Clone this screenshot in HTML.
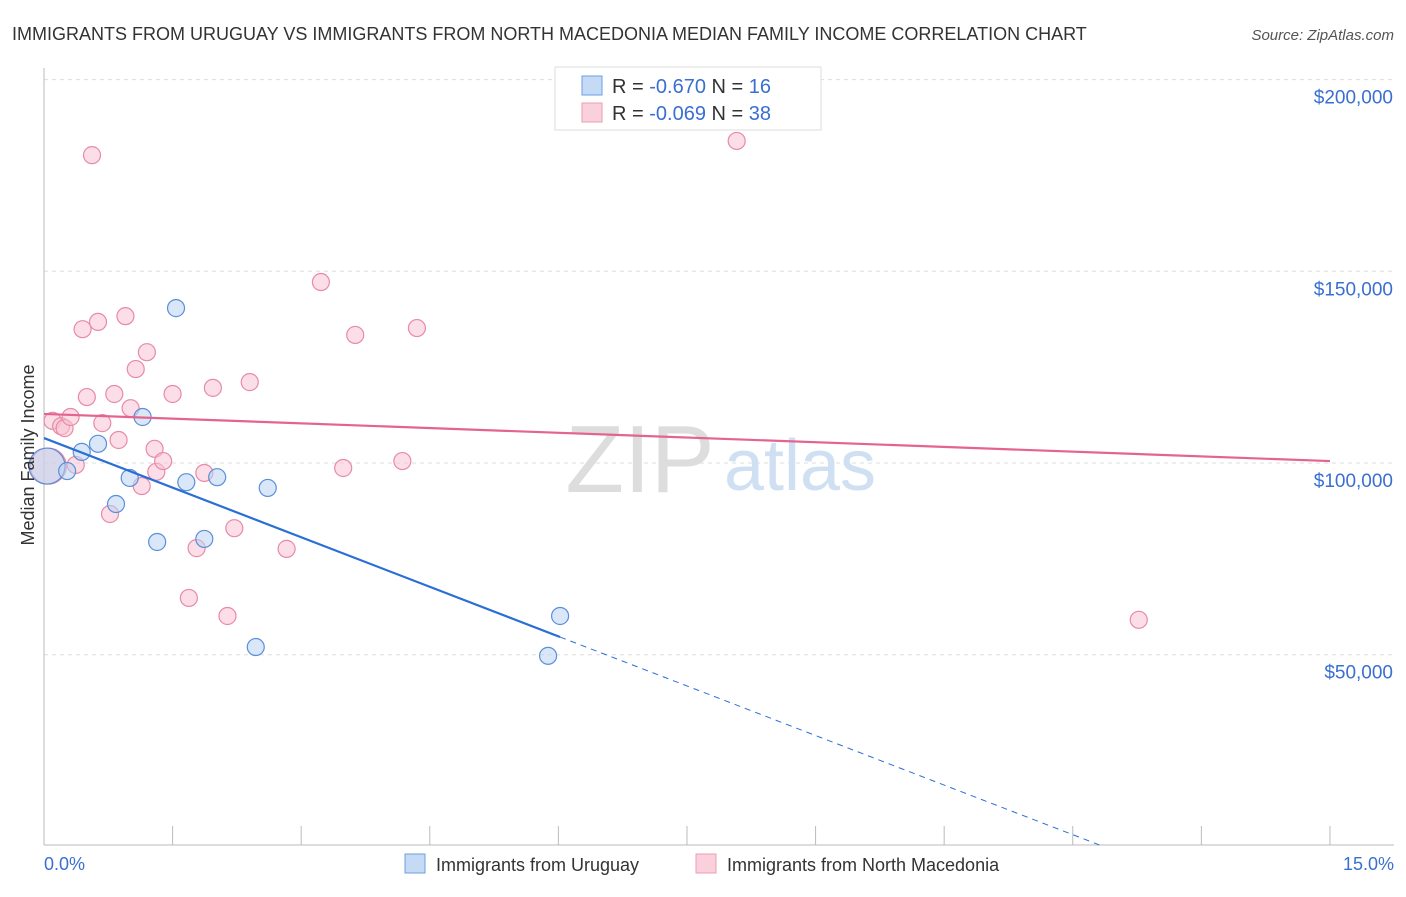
<!DOCTYPE html>
<html><head><meta charset="utf-8"><style>
body{margin:0;background:#fff;font-family:"Liberation Sans",sans-serif;}
svg text{font-family:"Liberation Sans",sans-serif;}
</style></head><body>
<svg width="1406" height="892" xmlns="http://www.w3.org/2000/svg">
<text x="12" y="40" font-size="18" fill="#333">IMMIGRANTS FROM URUGUAY VS IMMIGRANTS FROM NORTH MACEDONIA MEDIAN FAMILY INCOME CORRELATION CHART</text>
<text x="1394" y="40" font-size="15" fill="#555" font-style="italic" text-anchor="end">Source: ZipAtlas.com</text>
<g id="grid"></g>
<text x="640" y="492" font-size="96" fill="#ddd" font-family="Liberation Serif" text-anchor="middle">ZIP</text>
<text x="800" y="490" font-size="72" fill="#cfe0f3" text-anchor="middle">atlas</text>
<g id="marks"></g>
<text transform="translate(34,455) rotate(-90)" font-size="18" fill="#333" text-anchor="middle">Median Family Income</text>
<text x="44" y="870" font-size="18" fill="#3a6fd1">0.0%</text>
<text x="1394" y="870" font-size="18" fill="#3a6fd1" text-anchor="end">15.0%</text>
<g>
<rect x="555" y="67" width="266" height="63" fill="#fff" stroke="#ddd"/>
<rect x="582" y="76" width="20" height="19" fill="#c5dbf5" stroke="#6a9fe0"/>
<rect x="582" y="103" width="20" height="19" fill="#fbd0dd" stroke="#ec9cb5"/>
<text x="612" y="93" font-size="20" fill="#333">R = <tspan fill="#3a6fd1">-0.670</tspan>   N = <tspan fill="#3a6fd1"> 16</tspan></text>
<text x="612" y="120" font-size="20" fill="#333">R = <tspan fill="#3a6fd1">-0.069</tspan>   N = <tspan fill="#3a6fd1">38</tspan></text>
</g>
<g>
<rect x="405" y="854" width="20" height="19" fill="#c5dbf5" stroke="#6a9fe0"/>
<text x="436" y="871" font-size="18" fill="#333">Immigrants from Uruguay</text>
<rect x="696" y="854" width="20" height="19" fill="#fbd0dd" stroke="#ec9cb5"/>
<text x="727" y="871" font-size="18" fill="#333">Immigrants from North Macedonia</text>
</g>
</svg>
<script>
const yTicks=[50000,100000,150000,200000];
const yTickLabels=["$50,000","$100,000","$150,000","$200,000"];
const xTicks=[0,1.5,3,4.5,6,7.5,9,10.5,12,13.5,15];
const blueX=[0.035,0.27,0.44,0.63,0.84,1.00,1.15,1.32,1.54,1.66,1.87,2.02,2.47,2.61,5.88,6.02];
const blueY=[99200,97900,102900,105000,89300,96100,112000,79400,140400,95000,80200,96300,52000,93500,49700,60100];
const pinkX=[0.05,0.10,0.20,0.24,0.31,0.37,0.45,0.50,0.56,0.63,0.68,0.77,0.82,0.87,0.95,1.01,1.07,1.14,1.20,1.29,1.31,1.39,1.50,1.69,1.78,1.87,1.97,2.14,2.22,2.40,2.83,3.23,3.49,3.63,4.18,4.35,8.08,12.77];
const pinkY=[99200,111000,109600,109100,112000,99500,134900,117200,180300,136800,110400,86700,118000,106000,138300,114300,124500,94000,128900,103700,97700,100500,118000,64800,77800,97400,119600,60100,83000,121100,77600,147200,98700,133400,100500,135200,184000,59100];
const blueTrend=[106500,-8620];
const pinkTrend=[112800,-0.82*1000];
const NS="http://www.w3.org/2000/svg";
const X=v=>44+v*85.73;
const Y=v=>463-(v-100000)*191.7/50000;
function mk(tag,attrs,parent){const e=document.createElementNS(NS,tag);for(const k in attrs)e.setAttribute(k,attrs[k]);parent.appendChild(e);return e;}
const grid=document.getElementById('grid'),marks=document.getElementById('marks');
yTicks.forEach((t,i)=>{
 const l=mk('line',{x1:44,x2:1394,y1:Y(t),y2:Y(t),stroke:'#ddd','stroke-dasharray':'4,4'},grid);
 
 
 const tx=mk('text',{x:1393,y:Y(t)+24,'font-size':19,fill:'#3a6fd1','text-anchor':'end'},grid);
 tx.textContent=yTickLabels[i];
 
 
});
const ax=mk('line',{x1:44,x2:44,y1:68,y2:845,stroke:'#bbb'},grid);


const bx=mk('line',{x1:44,x2:1394,y1:845,y2:845,stroke:'#bbb'},grid);


xTicks.forEach(t=>{
 const l=mk('line',{x1:X(t),x2:X(t),y1:826,y2:845,stroke:'#bbb'},grid);
 
 
});
function dots(xs,ys,fill,stroke,name){
 xs.forEach((x,i)=>{
  const c=mk('circle',{cx:X(x),cy:Y(ys[i]),r:i===0?18:8.5,fill:fill,'fill-opacity':0.55,stroke:stroke,'stroke-width':1.2},marks);
  
  
 });
}
dots(pinkX,pinkY,'#f8c3d3','#e88aa8','point-macedonia');
dots(blueX,blueY,'#bcd4f2','#5b8fd8','point-uruguay');
const bEnd=6.02, bZero=-blueTrend[0]/blueTrend[1];
const bl=mk('line',{x1:X(0),y1:Y(blueTrend[0]),x2:X(bEnd),y2:Y(blueTrend[0]+blueTrend[1]*bEnd),stroke:'#2a6fd6','stroke-width':2.2},marks);


const bd=mk('line',{x1:X(bEnd),y1:Y(blueTrend[0]+blueTrend[1]*bEnd),x2:X(bZero),y2:Y(0),stroke:'#2a6fd6','stroke-width':1,'stroke-dasharray':'6,5'},marks);


const pl=mk('line',{x1:X(0),y1:Y(pinkTrend[0]),x2:X(15),y2:Y(pinkTrend[0]+pinkTrend[1]*15),stroke:'#e4648f','stroke-width':2.2},marks);


</script>
</body></html>
